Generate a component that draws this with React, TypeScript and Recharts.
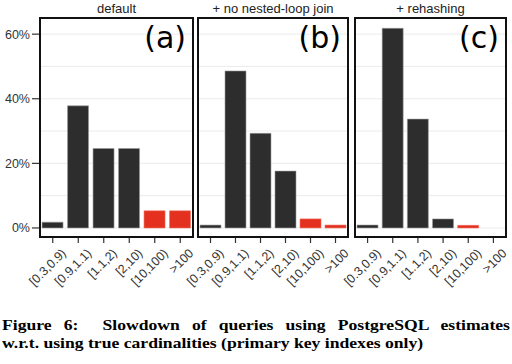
import React from "react";
import { BarChart, Bar, XAxis, YAxis, CartesianGrid, Cell } from "recharts";

const categories = ["[0.3,0.9)", "[0.9,1.1)", "[1.1,2)", "[2,10)", "[10,100)", ">100"];
const defaultValues = [1.8, 37.8, 24.6, 24.6, 5.3, 5.3];
const noNestedLoopValues = [0.9, 48.6, 29.3, 17.6, 2.8, 0.9];
const rehashingValues = [0.9, 61.8, 33.7, 2.8, 0.8, 0];
const highlighted = [false, false, false, false, true, true];
const yTicks = [0, 20, 40, 60];
const gridValues = [0, 10, 20, 30, 40, 50, 60];
const panelTitles = ["default", "+ no nested-loop join", "+ rehashing"];
const panelLabels = ["(a)", "(b)", "(c)"];

const DARK = "#2d2d2d";
const RED = "#e3301f";
const SANS = "'Liberation Sans', Arial, sans-serif";
const Y_DOMAIN: [number, number] = [-2.8, 65];

const buildData = (vals: number[]) =>
  categories.map((c, i) => ({ category: c, value: vals[i], red: highlighted[i] }));

const XTick = (props: any) => {
  const { x, y, payload } = props;
  const ax = x + 14;
  const ay = y + 9;
  return (
    <text
      x={ax}
      y={ay}
      transform={`rotate(-45, ${ax}, ${ay})`}
      textAnchor="end"
      fontSize={12.5}
      fontFamily={SANS}
      fill="#333"
    >
      {payload.value}
    </text>
  );
};

const panels = [
  { vals: defaultValues, left: 0, width: 215, marginLeft: 0, marginRight: 22, yAxis: true, plotLeft: 40, plotWidth: 153 },
  { vals: noNestedLoopValues, left: 158, width: 212, marginLeft: 40, marginRight: 22, yAxis: false, plotLeft: 198, plotWidth: 150 },
  { vals: rehashingValues, left: 315, width: 213, marginLeft: 40, marginRight: 22, yAxis: false, plotLeft: 355, plotWidth: 151 },
];

const PLOT_TOP = 18;
const CHART_H = 300;
const XAXIS_H = 63;
const PLOT_H = CHART_H - XAXIS_H - PLOT_TOP;

export default function App() {
  return (
    <div
      style={{
        position: "absolute",
        left: 0,
        top: 0,
        width: 512,
        height: 364,
        background: "#fff",
        overflow: "hidden",
      }}
    >
      {panels.map((p, idx) => (
        <React.Fragment key={idx}>
          <div style={{ position: "absolute", left: p.left, top: 0 }}>
            <BarChart
              width={p.width}
              height={CHART_H}
              data={buildData(p.vals)}
              margin={{ top: PLOT_TOP, right: p.marginRight, bottom: 0, left: p.marginLeft }}
              barCategoryGap="8%"
            >
              <CartesianGrid
                vertical={false}
                stroke="#ebebeb"
                horizontalValues={gridValues}
              />
              <XAxis
                dataKey="category"
                height={XAXIS_H}
                axisLine={false}
                tickLine={{ stroke: "#333", strokeWidth: 1.2 }}
                tickSize={6}
                tickMargin={2}
                interval={0}
                tick={<XTick />}
              />
              <YAxis
                hide={!p.yAxis}
                width={40}
                domain={Y_DOMAIN}
                ticks={yTicks}
                allowDataOverflow
                axisLine={false}
                tickLine={{ stroke: "#333", strokeWidth: 1.2 }}
                tickSize={8}
                tickMargin={2}
                tickFormatter={(v: number) => `${v}%`}
                tick={{ fontSize: 12.5, fontFamily: SANS, fill: "#333" }}
              />
              <Bar dataKey="value" isAnimationActive={false} stroke="#9a9a9a" strokeWidth={0.6}>
                {p.vals.map((_, i) => (
                  <Cell key={i} fill={highlighted[i] ? RED : DARK} stroke={highlighted[i] ? "#f07060" : "#9a9a9a"} />
                ))}
              </Bar>
            </BarChart>
          </div>
          <div
            style={{
              position: "absolute",
              left: p.plotLeft - 1,
              top: PLOT_TOP - 1,
              width: p.plotWidth + 2,
              height: PLOT_H + 2,
              border: "2px solid #111",
              boxSizing: "border-box",
              pointerEvents: "none",
            }}
          />
          <div
            style={{
              position: "absolute",
              left: p.plotLeft,
              top: 1,
              width: p.plotWidth,
              textAlign: "center",
              fontFamily: SANS,
              fontSize: 13,
              color: "#222",
              lineHeight: "15px",
            }}
          >
            {panelTitles[idx]}
          </div>
          <div
            style={{
              position: "absolute",
              left: p.plotLeft,
              top: 20,
              width: p.plotWidth - 7,
              textAlign: "right",
              fontFamily: "'DejaVu Sans', sans-serif",
              fontSize: 30,
              color: "#000",
              lineHeight: "36px",
            }}
          >
            {panelLabels[idx]}
          </div>
        </React.Fragment>
      ))}
      <div
        style={{
          position: "absolute",
          left: 2,
          top: 316,
          width: 508 / 1.215,
          transform: "scaleX(1.215)",
          transformOrigin: "0 0",
          fontFamily: "'Liberation Serif', 'Times New Roman', serif",
          fontWeight: "bold",
          fontSize: 14.5,
          lineHeight: "18px",
          color: "#000",
        }}
      >
        <div style={{ textAlign: "justify", textAlignLast: "justify" as any, whiteSpace: "nowrap" }}>
          Figure 6:&nbsp; Slowdown of queries using PostgreSQL estimates
        </div>
        <div style={{ whiteSpace: "nowrap" }}>w.r.t. using true cardinalities (primary key indexes only)</div>
      </div>
    </div>
  );
}
